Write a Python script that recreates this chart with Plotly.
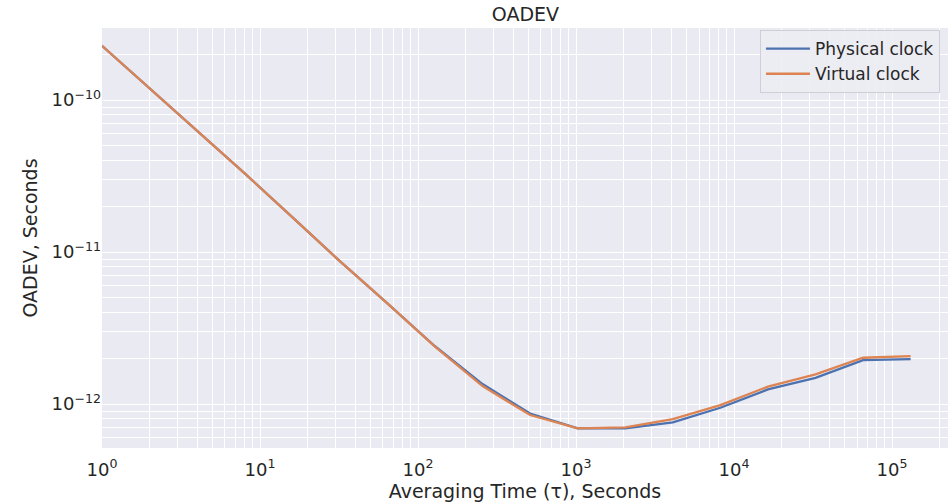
import numpy as np
import plotly.graph_objects as go

# Averaging times (tau = 2^k seconds)
tau = [1, 2, 4, 8, 16, 32, 64, 128, 256, 512, 1024, 2048, 4096, 8192,
       16384, 32768, 65536, 131072]

physical = [2.275e-10, 1.195e-10, 6.28e-11, 3.29e-11, 1.70e-11, 8.71e-12,
            4.60e-12, 2.40e-12, 1.354e-12, 8.66e-13, 6.92e-13, 6.92e-13,
            7.58e-13, 9.46e-13, 1.249e-12, 1.489e-12, 1.946e-12, 1.977e-12]

virtual = [2.275e-10, 1.195e-10, 6.28e-11, 3.29e-11, 1.70e-11, 8.71e-12,
           4.60e-12, 2.39e-12, 1.313e-12, 8.47e-13, 6.92e-13, 7.03e-13,
           7.97e-13, 9.85e-13, 1.303e-12, 1.567e-12, 2.017e-12, 2.07e-12]

x_major_exp = [0, 1, 2, 3, 4, 5]
y_major_exp = [-12, -11, -10]

TEXT = "#262626"
FONT = "DejaVu Sans"

def minor_vals(lo_exp, hi_exp):
    vals = []
    for e in range(lo_exp, hi_exp + 1):
        for m in range(2, 10):
            vals.append(m * 10.0 ** e)
    return vals

def sup(e):
    return f"10<sup>{str(e).replace('-', '−')}</sup>"

fig = go.Figure()
fig.add_trace(go.Scatter(x=tau, y=physical, mode="lines", name="Physical clock",
                         line=dict(color="#4C72B0", width=2.3)))
fig.add_trace(go.Scatter(x=tau, y=virtual, mode="lines", name="Virtual clock",
                         line=dict(color="#DD8452", width=2.3)))

grid = dict(showgrid=True, gridcolor="white", gridwidth=1.3, zeroline=False,
            showline=False, ticks="")

fig.update_xaxes(
    type="log", range=[0, 5.354],
    tickmode="array", tickvals=[10.0 ** e for e in x_major_exp],
    ticktext=[sup(e) for e in x_major_exp],
    minor=dict(tickmode="array", tickvals=minor_vals(0, 5), showgrid=True,
               gridcolor="white", gridwidth=1.3, ticks=""),
    title=dict(text="Averaging Time (τ), Seconds", font=dict(size=19, color=TEXT),
               standoff=5),
    tickfont=dict(size=18, color=TEXT),
    ticklabelstandoff=9,
    **grid,
)
fig.update_yaxes(
    type="log", range=[-12.289, -9.526],
    tickmode="array", tickvals=[10.0 ** e for e in y_major_exp],
    ticktext=[sup(e) for e in y_major_exp],
    minor=dict(tickmode="array", tickvals=minor_vals(-13, -10), showgrid=True,
               gridcolor="white", gridwidth=1.3, ticks=""),
    title=dict(text="OADEV, Seconds", font=dict(size=19, color=TEXT), standoff=8),
    tickfont=dict(size=18, color=TEXT),
    **grid,
)

fig.update_layout(
    width=951, height=504,
    margin=dict(l=102, r=3, t=28, b=56),
    paper_bgcolor="white", plot_bgcolor="#EAEAF2",
    font=dict(family=FONT, color=TEXT),
    title=dict(text="OADEV", x=0.5525, xanchor="center", y=0.972, yanchor="middle",
               font=dict(size=19, color=TEXT)),
    legend=dict(x=0.9905, y=0.995, xanchor="right", yanchor="top",
                itemwidth=44,
                bgcolor="rgba(236,236,243,0.9)", bordercolor="#CFCFD6", borderwidth=1,
                font=dict(size=17, color=TEXT)),
    showlegend=True,
)

fig.write_html("out.html")
